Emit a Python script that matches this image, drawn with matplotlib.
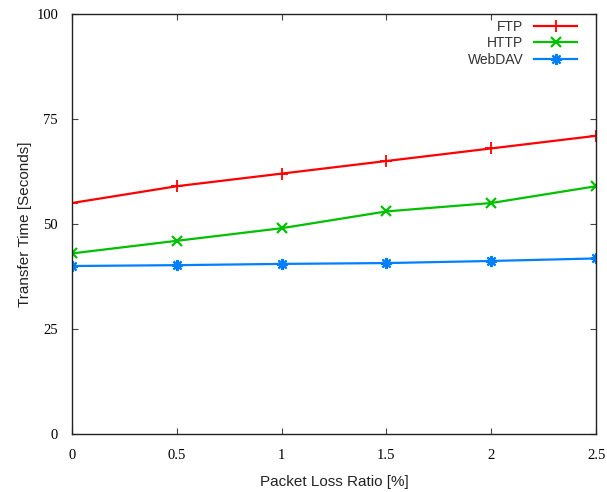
import matplotlib
matplotlib.use("Agg")
import matplotlib.pyplot as plt

loss_ratio = [0, 0.5, 1, 1.5, 2, 2.5]
ftp = [55, 59, 62, 65, 68, 71]
http = [43, 46, 49, 53, 55, 59]
webdav = [40.0, 40.2, 40.5, 40.7, 41.2, 41.8]

yticks = [0, 25, 50, 75, 100]
xticks = [0, 0.5, 1, 1.5, 2, 2.5]
xtick_labels = ["0", "0.5", "1", "1.5", "2", "2.5"]

fig = plt.figure(figsize=(6.07, 4.92), dpi=100)
ax = fig.add_axes([0.1186, 0.1179, 0.8634, 0.8536])

ax.plot(loss_ratio, ftp, color="#ff0000", lw=1.6, marker="+", ms=9, mew=1.3, label="FTP")
ax.plot(loss_ratio, http, color="#00c000", lw=1.6, marker="x", ms=7, mew=1.6, label="HTTP")
ax.plot(loss_ratio, webdav, color="#0080ff", lw=1.6, marker=(8, 2, 0), ms=8, mew=1.6, label="WebDAV")

ax.set_xlim(0, 2.5)
ax.set_ylim(0, 100)
ax.set_xticks(xticks)
ax.set_xticklabels(xtick_labels)
ax.set_yticks(yticks)

for lab in ax.get_xticklabels() + ax.get_yticklabels():
    lab.set_family("Liberation Serif")
    lab.set_fontsize(10.5)

ax.tick_params(direction="in", length=4, width=0.8, top=True, right=True, color="#444444")
ax.tick_params(axis="x", pad=11)
ax.tick_params(axis="y", pad=10)
for sp in ax.spines.values():
    sp.set_linewidth(1.0)
    sp.set_color("#222222")

ax.set_xlabel("Packet Loss Ratio [%]", family="Liberation Sans", fontsize=11, labelpad=9, color="#222222")
ax.set_ylabel("Transfer Time [Seconds]", family="Liberation Sans", fontsize=11, labelpad=3, color="#222222")

leg = ax.legend(loc="upper right", frameon=False, markerfirst=False, handlelength=3.1,
                prop={"family": "Liberation Sans", "size": 10}, labelspacing=0.2,
                bbox_to_anchor=(0.975, 1.0), borderaxespad=0.0, handletextpad=0.8)
for t in leg.get_texts():
    t.set_color("#333333")

fig.savefig("out.png", dpi=100)
